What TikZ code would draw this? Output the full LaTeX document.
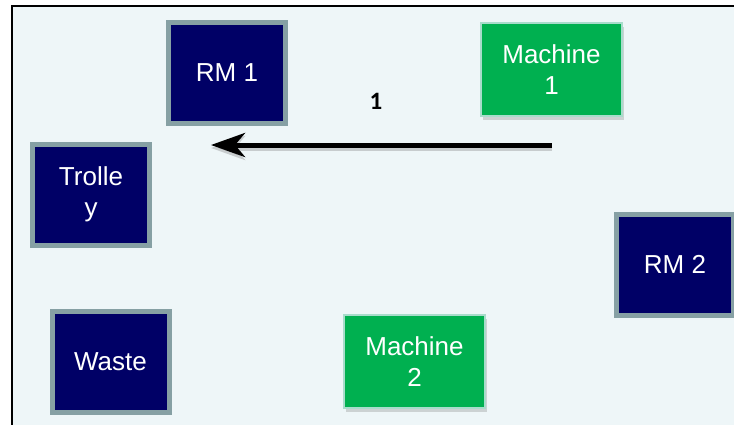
\documentclass[tikz,border=0pt]{standalone}
\usepackage{fontspec}
\setmainfont{Liberation Sans}
\newfontfamily\tripfont{Carlito}
\usepackage{xcolor}
\usetikzlibrary{positioning}
\usetikzlibrary{arrows.meta}
\usetikzlibrary{shadows}
\definecolor{floorblue}{HTML}{EEF6F8}
\definecolor{rmnavy}{HTML}{000066}
\definecolor{rmgray}{HTML}{86A0A4}
\definecolor{machgreen}{HTML}{00B050}
\definecolor{machedge}{HTML}{A8DCCB}

\begin{document}
\begin{tikzpicture}[x=1pt, y=-1pt,
	store/.style={draw=rmgray, line width=5pt, fill=rmnavy, text=white, minimum width=117pt, minimum height=101pt, inner sep=0pt, align=center, font=\fontsize{26}{31}\selectfont},
	machine/.style={draw=machedge, line width=1.5pt, fill=machgreen, text=white, minimum width=141pt, minimum height=93pt, inner sep=0pt, align=center, font=\fontsize{26}{31}\selectfont, drop shadow={opacity=0.3, shadow xshift=2pt, shadow yshift=-4pt}},
	move/.style={black, line width=5pt, -{Stealth[length=34pt, width=24pt, inset=10pt]}}]
				    		\useasboundingbox (0,0) rectangle (734,424);
				    		\draw[black, line width=2pt, fill=floorblue] (12,6) rectangle (750,440);
				    		\node[store] (rm1) at (227,73) {RM 1};
				    		\node[store] (trolley) at (91,194.5) {Trolle\\y};
				    		\node[store] (waste) at (110.5,361.5) {Waste};
				    		\node[store] (rm2) at (675,264.5) {RM 2};
				    		\node[machine] (m1) at (551.5,69.5) {Machine\\1};
				    		\node[machine] (m2) at (414.5,361.5) {Machine\\2};
				    		\coordinate (start) at (552,145);
				    		\coordinate (stop) at (211,145);
				    		\draw[move, black!50, opacity=0.35, transform canvas={yshift=-3pt}] (start) -- (stop);
				    		\draw[move] (start) -- (stop);
				    		\node[font=\tripfont\bfseries\fontsize{25}{30}\selectfont] (trip) at (376,101) {1};
				    	\end{tikzpicture}
\end{document}
